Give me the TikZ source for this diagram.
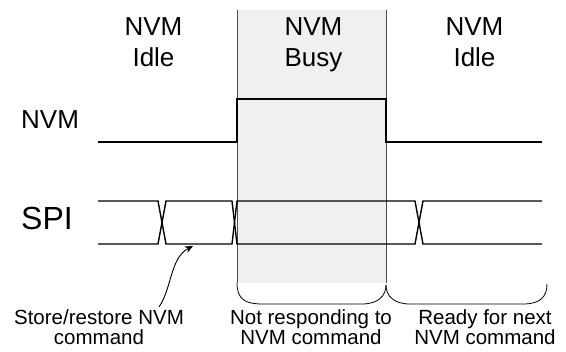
\documentclass[tikz,border=0pt]{standalone}
\usepackage{fontspec}
\setmainfont{Liberation Sans}
\usetikzlibrary{arrows.meta}
\begin{document}
\begin{tikzpicture}[x=1pt,y=-1pt,
  sig/.style={line width=1.4pt,black,line join=miter},
  edge/.style={line width=0.8pt,black!70},
  head/.style={font=\fontsize{26}{30.7}\selectfont,align=center,anchor=base,inner sep=0pt},
  lbl/.style={font=\fontsize{26}{30}\selectfont,anchor=base west,inner sep=0pt},
  note/.style={font=\fontsize{20.5}{19.5}\selectfont,align=center,anchor=base,inner sep=0pt},
  brace/.style={line width=0.8pt,black}]
\useasboundingbox (0,0) rectangle (566,352);
% busy region
\fill[black!6] (237,10) rectangle (386,283);
\draw[edge] (237,10) -- (237,283);
\draw[edge] (386,10) -- (386,283);
% header labels
\node[head] (h1) at (153.5,66.7) {NVM\\Idle};
\node[head] (h2) at (313.5,66.7) {NVM\\Busy};
\node[head] (h3) at (474.5,66.7) {NVM\\Idle};
% row labels
\node[lbl] (lnvm) at (21,129) {NVM};
\node[lbl,font=\fontsize{32}{36}\selectfont] (lspi) at (21,229.3) {SPI};
% NVM signal
\draw[sig] (98,142) -- (237,142) -- (237,99) -- (386,99) -- (386,142) -- (542,142);
% SPI bus
\draw[sig] (98,201) -- (158,201) -- (166,244) -- (232,244) -- (237,201) -- (415,201) -- (423,244) -- (542,244);
\draw[sig] (98,244) -- (158,244) -- (166,201) -- (232,201) -- (237,244) -- (415,244) -- (423,201) -- (542,201);
% braces
\draw[brace] (237,283) .. controls (237,299) and (245,304) .. (262,304) -- (362,304)
  .. controls (378,304) and (386,296) .. (386,285);
\draw[brace] (386,285) .. controls (386,296) and (394,304) .. (410,304) -- (523,304)
  .. controls (540,304) and (547,297) .. (547,284);
% bottom notes
\node[note] (n1) at (99,344.5) {Store/restore NVM\\command};
\node[note] (n2) at (311,344.5) {Not responding to\\NVM command};
\node[note] (n3) at (485,344.5) {Ready for next\\NVM command};
% arrow
\coordinate (astart) at (159,307);
\coordinate (atip) at (193,246);
\draw[line width=0.9pt,-{Stealth[length=8pt,width=7pt]}] (astart) .. controls (172,288) and (170,258) .. (atip);
\end{tikzpicture}
\end{document}
